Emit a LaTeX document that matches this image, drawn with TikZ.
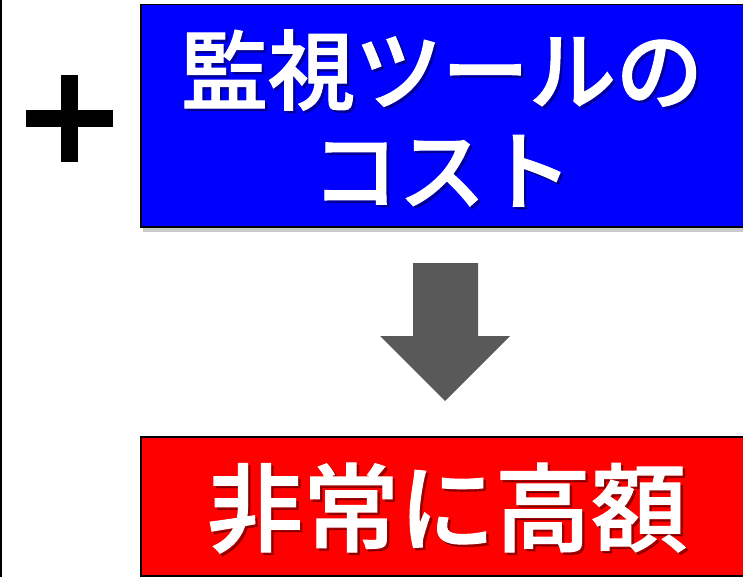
\documentclass[tikz,border=0pt]{standalone}
\usepackage{fontspec}
\newfontfamily\jp{Noto Sans CJK JP}[UprightFont={* Medium}, FakeBold=1.2]
\usetikzlibrary{shadows}
\definecolor{arrowgray}{HTML}{595959}
\tikzset{
  box/.style={draw=black, line width=1.5pt, inner sep=0pt,
    drop shadow={shadow xshift=2pt, shadow yshift=-5pt, opacity=0.35, fill=black!60}},
  boxtext/.style={text=white, align=center, inner sep=0pt},
  shadowtext/.style={text=black, opacity=0.35, align=center, inner sep=0pt},
  plusbar/.style={fill=black, draw=none}
}
\begin{document}
\begin{tikzpicture}[x=1pt, y=-1pt]
\clip (0,0) rectangle (743,577);
\useasboundingbox (0,0) rectangle (743,577);
\fill[white] (0,0) rectangle (743,577);
% left rule
\draw[line width=2pt] (1,0) -- (1,577);
% plus sign
\fill[plusbar] (61,75) rectangle (78,162);
\fill[plusbar] (26,110) rectangle (113,127);
% blue box
\node[box, fill={rgb,255:red,0;green,0;blue,255}, minimum width=630pt, minimum height=222pt, anchor=north west] (top) at (140,4) {};
\node[shadowtext, font=\jp\fontsize{87}{100}\selectfont] at ([xshift=2.5pt,yshift=-2.5pt]442,118) {監視ツールの\\コスト};
\node[boxtext, font=\jp\fontsize{87}{100}\selectfont] (toptext) at (442,118) {監視ツールの\\コスト};
% red box
\node[box, fill={rgb,255:red,255;green,0;blue,0}, minimum width=630pt, minimum height=139pt, anchor=north west] (bottom) at (140,436) {};
\node[shadowtext, font=\jp\fontsize{96}{100}\selectfont] at ([xshift=2.5pt,yshift=-2.5pt]447,508) {非常に高額};
\node[boxtext, font=\jp\fontsize{96}{100}\selectfont] (bottomtext) at (447,508) {非常に高額};
% block arrow
\fill[arrowgray] (413,263) -- (478,263) -- (478,336) -- (510,336) -- (445,401) -- (380,336) -- (413,336) -- cycle;
\end{tikzpicture}
\end{document}
